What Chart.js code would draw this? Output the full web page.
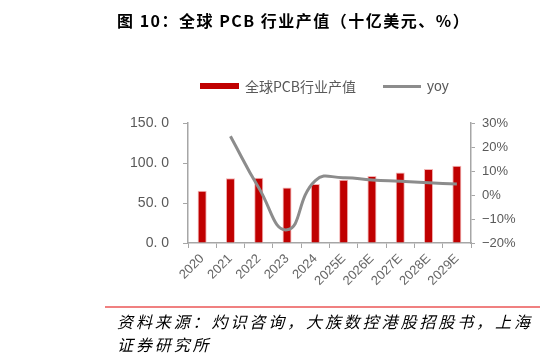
<!DOCTYPE html>
<html>
<head>
<meta charset="utf-8">
<script src="https://cdn.jsdelivr.net/npm/chart.js@4/dist/chart.umd.min.js"></script>
<style>
  html, body { margin: 0; padding: 0; background: #fff; }
  body { width: 545px; height: 356px; position: relative; overflow: hidden; font-family: "Liberation Sans", Arial, sans-serif; }
  #title { position: absolute; left: 117px; top: 9px; font-family: "Noto Sans CJK SC", sans-serif; font-weight: bold; font-size: 16px; letter-spacing: 1.5px; color: #000; white-space: nowrap; line-height: 22px; }
  #chartWrap { position: absolute; left: 0; top: 0; width: 545px; height: 356px; }
  .leg { position: absolute; white-space: nowrap; }
  #legBar { left: 200px; top: 83px; width: 39px; height: 6px; background: #C00000; }
  #legBarTxt { left: 245px; top: 77px; font-family: "Noto Sans CJK SC", sans-serif; font-size: 14px; color: #595959; line-height: 18px; }
  #legLine { left: 383px; top: 85px; width: 38px; height: 3px; background: #8c8c8c; }
  #legLineTxt { left: 427px; top: 77px; font-family: "Liberation Sans", Arial, sans-serif; font-size: 14px; color: #595959; line-height: 18px; }
  #rule { position: absolute; left: 105px; top: 306px; width: 435px; height: 2px; background: #f08080; }
  #source { position: absolute; left: 117px; top: 310px; white-space: nowrap; font-family: "Noto Sans CJK SC", sans-serif; font-style: italic; font-size: 16px; letter-spacing: 2.9px; line-height: 23px; color: #000; }
</style>
</head>
<body>
<div id="chartWrap"><canvas id="c" width="545" height="356"></canvas></div>
<div id="title">图 10：全球 PCB 行业产值（十亿美元、%）</div>
<div class="leg" id="legBar"></div>
<div class="leg" id="legBarTxt">全球PCB行业产值</div>
<div class="leg" id="legLine"></div>
<div class="leg" id="legLineTxt">yoy</div>
<div id="rule"></div>
<div id="source">资料来源：灼识咨询，大族数控港股招股书，上海<br>证券研究所</div>
<script>
const categories = ["2020", "2021", "2022", "2023", "2024", "2025E", "2026E", "2027E", "2028E", "2029E"];
const pcbValue = [65.2, 80.9, 81.7, 69.5, 73.6, 79.0, 83.6, 88.2, 92.6, 96.7];
const yoy = [null, 24.5, 3.0, -14.5, 6.0, 7.2, 6.3, 5.7, 5.1, 4.6];
const leftTicks = [0, 50, 100, 150];
const rightTicks = [-20, -10, 0, 10, 20, 30];

const axisColor = "#a6a6a6";
const labelColor = "#595959";

new Chart(document.getElementById("c"), {
  type: "bar",
  data: {
    labels: categories,
    datasets: [
      {
        type: "line",
        label: "yoy",
        data: yoy,
        yAxisID: "y1",
        borderColor: "#8c8c8c",
        borderWidth: 3,
        pointRadius: 0,
        tension: 0.5,
        fill: false,
        order: 0
      },
      {
        type: "bar",
        label: "全球PCB行业产值",
        data: pcbValue,
        yAxisID: "y",
        backgroundColor: "#C00000",
        borderColor: "rgba(240,160,160,0.8)",
        borderWidth: { top: 1, left: 1, right: 1, bottom: 0 },
        barPercentage: 0.32,
        categoryPercentage: 1.0,
        order: 1
      }
    ]
  },
  options: {
    responsive: false,
    animation: false,
    layout: { padding: { left: 100, right: 24, top: 123, bottom: 53 } },
    plugins: { legend: { display: false }, tooltip: { enabled: false } },
    scales: {
      x: {
        offset: true,
        grid: { offset: true, drawOnChartArea: false, drawTicks: true, tickLength: 5, color: axisColor },
        border: { color: axisColor, width: 1.5 },
        ticks: { color: "#666666", font: { family: "Liberation Sans", size: 13 }, maxRotation: 45, minRotation: 45, padding: 3, autoSkip: false },
        afterFit: s => { s.height = 60; }
      },
      y: {
        position: "left",
        min: 0, max: 150,
        afterBuildTicks: s => { s.ticks = leftTicks.map(v => ({ value: v })); },
        grid: { drawOnChartArea: false, drawTicks: true, tickLength: 5, color: axisColor },
        border: { color: axisColor, width: 1.5 },
        ticks: { color: labelColor, font: { family: "Liberation Sans", size: 14 }, padding: 14,
          callback: v => v.toFixed(1).replace(".", ". ") },
        afterFit: s => { s.width = 88; }
      },
      y1: {
        position: "right",
        min: -20, max: 30,
        afterBuildTicks: s => { s.ticks = rightTicks.map(v => ({ value: v })); },
        grid: { drawOnChartArea: false, drawTicks: true, tickLength: 4, color: axisColor },
        border: { color: axisColor, width: 1.5 },
        ticks: { color: labelColor, font: { family: "Liberation Sans", size: 13 }, padding: 7,
          callback: v => (v < 0 ? "\u2212" + Math.abs(v) : v) + "%" },
        afterFit: s => { s.width = 50; }
      }
    }
  }
});
</script>
</body>
</html>
